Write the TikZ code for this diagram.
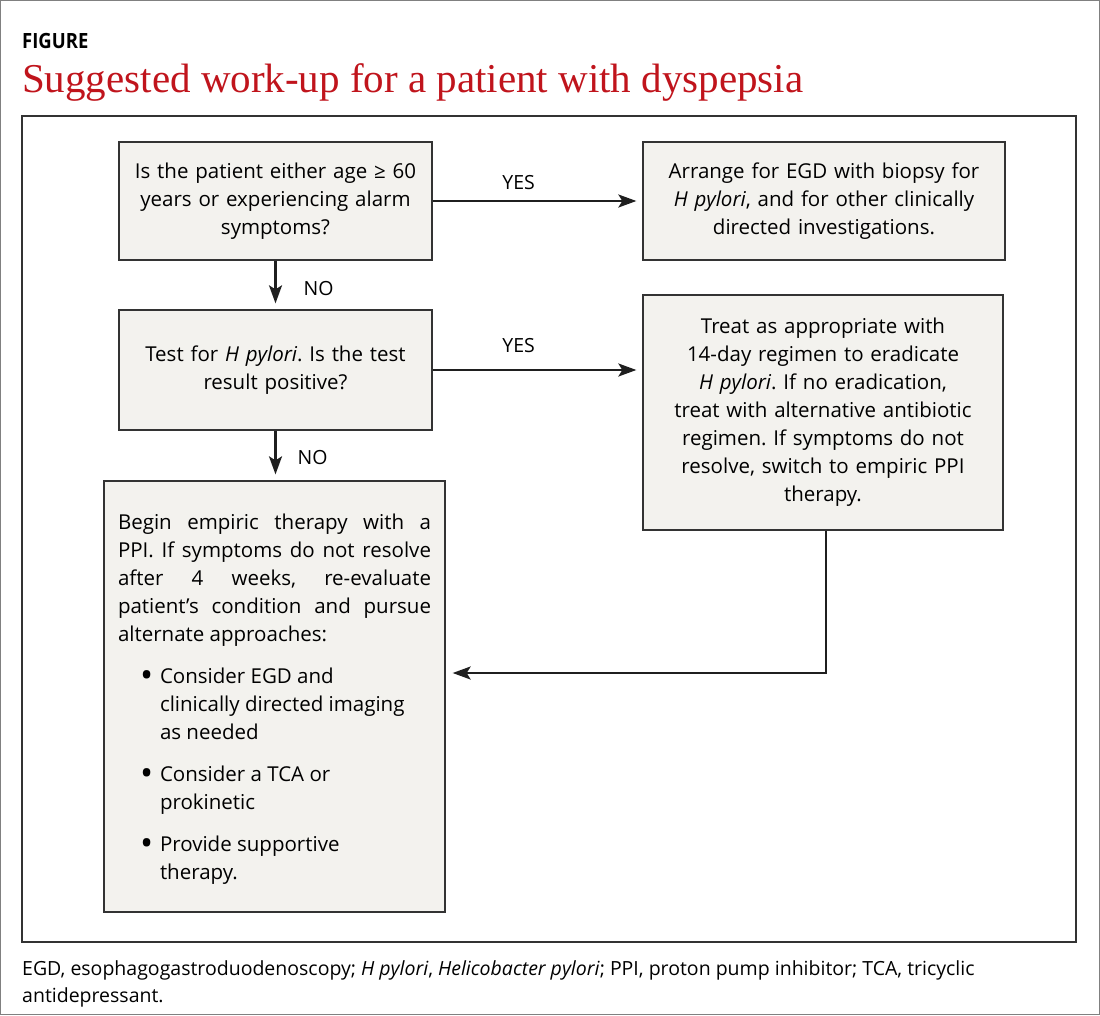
\documentclass[tikz,border=0pt]{standalone}
\usepackage{fontspec}
\setmainfont{Open Sans}
\newfontfamily\titlefont{Liberation Serif}
\usetikzlibrary{arrows.meta}
\definecolor{boxfill}{HTML}{F3F2EE}
\definecolor{boxline}{HTML}{333333}
\definecolor{titlered}{HTML}{C0141C}
\frenchspacing
\newcommand{\bulletitem}{\par\vspace{14pt}\hangindent=42pt\hangafter=1\noindent\makebox[42pt][l]{\hspace{22pt}\raisebox{-4.5pt}{\scalebox{1.7}{•}}}}
\tikzset{
  flowbox/.style={draw=boxline, fill=boxfill, line width=1.3pt, inner sep=0pt,
    font=\fontsize{20.5}{28}\selectfont, align=center},
  flowarrow/.style={line width=2.2pt, draw=black!88, shorten >=6pt,
    -{Stealth[length=18pt,width=13pt,inset=4pt]}},
  flowlabel/.style={font=\fontsize{19.5}{24}\selectfont, inner sep=0pt},
}
\begin{document}
\begin{tikzpicture}[x=1pt,y=-1pt]
\useasboundingbox (0,0) rectangle (1100,1015);
\draw[gray, line width=1pt] (0.5,0.5) rectangle (1099.5,1014.5);
\node[anchor=base west, inner sep=0pt, font=\bfseries\fontsize{21}{26}\selectfont] (fig) at (22,48) {\scalebox{0.88}[1]{FIGURE}};
\node[anchor=base west, inner sep=0pt, text=titlered, font=\titlefont\fontsize{41}{44}\selectfont] (title) at (22,92) {Suggested work-up for a patient with dyspepsia};
\draw[boxline, line width=1.3pt] (22,116) rectangle (1076,942);

\node[flowbox, minimum width=313pt, minimum height=118pt, text width=305pt] (a) at (275.5,201)
  {Is the patient either age ≥ 60\\ years or experiencing alarm\\ symptoms?};
\node[flowbox, minimum width=362pt, minimum height=118pt, text width=350pt] (b) at (824,201)
  {Arrange for EGD with biopsy for\\ \textit{H pylori}, and for other clinically\\ directed investigations.};
\node[flowbox, minimum width=313pt, minimum height=120pt, text width=305pt] (c) at (275.5,370)
  {Test for \textit{H pylori}. Is the test\\ result positive?};
\node[flowbox, minimum width=360pt, minimum height=235pt, text width=350pt] (d) at (823,412.5)
  {Treat as appropriate with\\ 14-day regimen to eradicate\\ \textit{H pylori}. If no eradication,\\ treat with alternative antibiotic\\ regimen. If symptoms do not\\ resolve, switch to empiric PPI\\ therapy.};
\node[flowbox, minimum width=341pt, minimum height=431pt, align=left] (e) at (274.5,696.5)
  {\begin{minipage}{313pt}\fontsize{20.5}{28}\selectfont
  \vspace*{5pt}
  Begin empiric therapy with a\linebreak PPI. If symptoms do not resolve\linebreak after 4 weeks, re-evaluate\linebreak patient’s condition and pursue\linebreak alternate approaches:\par
  \raggedright
  \bulletitem Consider EGD and\newline clinically directed imaging\newline as needed
  \bulletitem Consider a TCA or\newline prokinetic
  \bulletitem Provide supportive\newline therapy.\par
  \end{minipage}};

\coordinate (bend) at (826,673);
\draw[flowarrow] (a.east) -- (b.west) node[flowlabel, pos=0.41, above=10pt] (yes1) {YES};
\draw[flowarrow] (c.east) -- (d.west |- c.east) node[flowlabel, pos=0.41, above=16pt] (yes2) {YES};
\draw[flowarrow] (a.south) -- (c.north) node[flowlabel, pos=0.58, anchor=west, xshift=27pt] (no1) {NO};
\draw[flowarrow] (c.south) -- (c.south |- e.north) node[flowlabel, pos=0.55, anchor=west, xshift=21pt] (no2) {NO};
\draw[flowarrow, shorten >=7pt] (d.south -| bend) -- (bend) -- (e.east |- bend);

\node[anchor=north west, inner sep=0pt, font=\fontsize{19.5}{27}\selectfont, align=left] (foot) at (22,960)
  {EGD, esophagogastroduodenoscopy; \textit{H pylori}, \textit{Helicobacter pylori}; PPI, proton pump inhibitor; TCA, tricyclic\\ antidepressant.};
\end{tikzpicture}
\end{document}
